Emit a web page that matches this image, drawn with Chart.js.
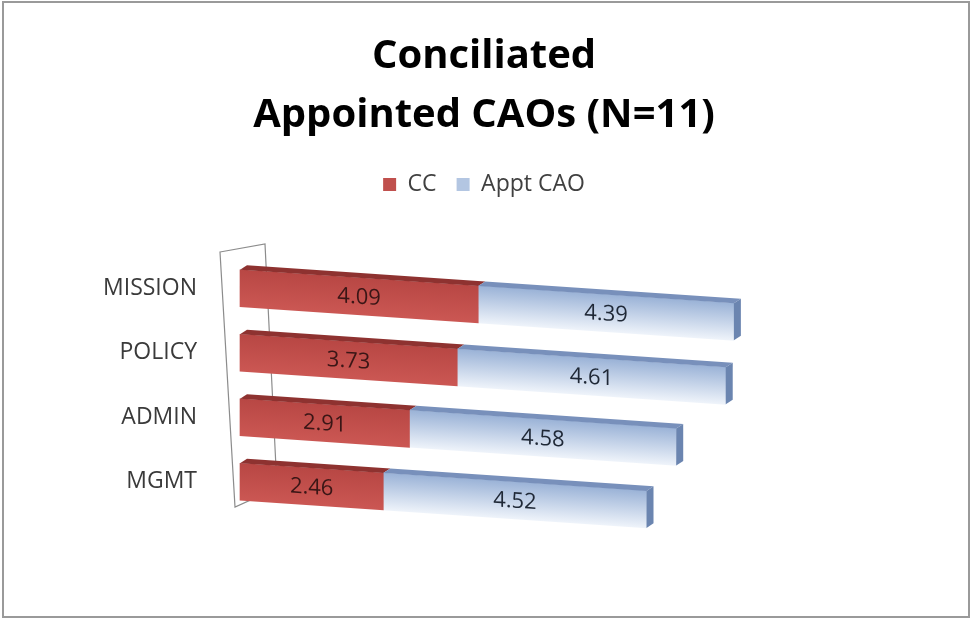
<!DOCTYPE html>
<html><head><meta charset="utf-8">
<script src="https://cdn.jsdelivr.net/npm/chart.js@4/dist/chart.umd.min.js"></script>
<style>html,body{margin:0;padding:0;background:#fff}canvas{display:block}</style>
</head><body>
<canvas id="c" width="972" height="620"></canvas>
<script>
const titleLines = ['Conciliated', 'Appointed CAOs (N=11)'];
const categories = ['MISSION', 'POLICY', 'ADMIN', 'MGMT'];
const seriesNames = ['CC', 'Appt CAO'];
const ccValues = [4.09, 3.73, 2.91, 2.46];
const apptValues = [4.39, 4.61, 4.58, 4.52];
const valueAxisMin = 0;
const valueAxisMax = 12.5;

const FONT = "'Open Sans', 'DejaVu Sans', sans-serif";
const SKEW = 0.068;
const DX = 7, DY = 5;
const BAR = 37;
const LEGEND_GAP = 50;
const frontColors = [['#b84744', '#cb5753'], ['#9bb3d7', '#eef3fa']];
const topColors = ['#8e3230', '#7890bb'];
const sideColors = ['#8a302e', '#6b85b0'];
const labelColors = ['#3a1616', '#1f2836'];
const legendColors = ['#c0504d', '#b3c6e2'];

function frontFill(di) {
  return (context) => {
    const chart = context.chart;
    const a = chart.chartArea;
    if (!a || context.type !== 'data') return frontColors[di][0];
    const y = chart.scales.y.getPixelForValue(context.dataIndex);
    const g = chart.ctx.createLinearGradient(0, y - BAR / 2, 0, y + BAR / 2);
    g.addColorStop(0, frontColors[di][0]);
    g.addColorStop(1, frontColors[di][1]);
    return g;
  };
}

const bars3d = {
  id: 'bars3d',
  beforeInit(chart) {
    const lg = chart.legend;
    if (lg) {
      const origFit = lg.fit;
      lg.fit = function () { origFit.call(this); this.height += LEGEND_GAP; };
    }
  },
  beforeDraw(chart) {
    const c = chart.ctx;
    c.save();
    c.fillStyle = '#ffffff';
    c.fillRect(0, 0, chart.width, chart.height);
    c.strokeStyle = '#9a9a9a';
    c.lineWidth = 2;
    c.strokeRect(3, 2, chart.width - 6, chart.height - 5);
    c.restore();
  },
  beforeDatasetsDraw(chart) {
    const {ctx, chartArea: a} = chart;
    ctx.save();
    ctx.strokeStyle = '#8c8c8c';
    ctx.lineWidth = 1.2;
    ctx.beginPath();
    ctx.moveTo(a.left - 20, a.top - 4);
    ctx.lineTo(a.left + 25, a.top - 12);
    ctx.lineTo(a.left + 37, a.bottom - 26);
    ctx.lineTo(a.left - 5, a.bottom - 7);
    ctx.closePath();
    ctx.stroke();
    ctx.restore();
    ctx.save();
    ctx.transform(1, SKEW, 0, 1, 0, -SKEW * a.left);
  },
  afterDatasetsDraw(chart) {
    const ctx = chart.ctx;
    const n = chart.data.datasets.length;
    chart.data.datasets.forEach((ds, di) => {
      const meta = chart.getDatasetMeta(di);
      meta.data.forEach((bar) => {
        const p = bar.getProps(['x', 'y', 'base', 'height'], true);
        const x0 = Math.min(p.base, p.x), x1 = Math.max(p.base, p.x);
        const top = p.y - p.height / 2, bottom = p.y + p.height / 2;
        ctx.fillStyle = topColors[di];
        ctx.beginPath();
        ctx.moveTo(x0, top);
        ctx.lineTo(x0 + DX, top - DY);
        ctx.lineTo(x1 + DX, top - DY);
        ctx.lineTo(x1, top);
        ctx.closePath();
        ctx.fill();
        if (di === n - 1) {
          ctx.fillStyle = sideColors[di];
          ctx.beginPath();
          ctx.moveTo(x1, top);
          ctx.lineTo(x1 + DX, top - DY);
          ctx.lineTo(x1 + DX, bottom - DY);
          ctx.lineTo(x1, bottom);
          ctx.closePath();
          ctx.fill();
        }
      });
    });
    chart.data.datasets.forEach((ds, di) => {
      const meta = chart.getDatasetMeta(di);
      meta.data.forEach((bar, i) => {
        const p = bar.getProps(['x', 'y', 'base'], true);
        ctx.fillStyle = labelColors[di];
        ctx.font = "22px " + FONT;
        ctx.textAlign = 'center';
        ctx.textBaseline = 'middle';
        ctx.fillText(ds.data[i].toFixed(2), (p.x + p.base) / 2, p.y + 1);
      });
    });
    ctx.restore();
  }
};

new Chart(document.getElementById('c'), {
  type: 'bar',
  data: {
    labels: categories,
    datasets: [
      {label: seriesNames[0], data: ccValues, backgroundColor: frontFill(0), borderWidth: 0, barThickness: BAR, clip: false},
      {label: seriesNames[1], data: apptValues, backgroundColor: frontFill(1), borderWidth: 0, barThickness: BAR, clip: false}
    ]
  },
  options: {
    indexAxis: 'y',
    responsive: false,
    animation: false,
    events: [],
    layout: {padding: {top: 0, right: 4, bottom: 106, left: 0}},
    scales: {
      x: {stacked: true, display: false, min: valueAxisMin, max: valueAxisMax},
      y: {
        stacked: true,
        grid: {display: false, drawTicks: false},
        border: {display: false},
        ticks: {color: '#3a3a3a', font: {family: FONT, size: 23}, padding: 43},
        afterFit(scale) { scale.width = 240; }
      }
    },
    plugins: {
      tooltip: {enabled: false},
      title: {
        display: true,
        text: titleLines,
        color: '#000000',
        font: {family: FONT, weight: 'bold', size: 40, lineHeight: 1.475},
        padding: {top: 27, bottom: 8}
      },
      legend: {
        display: true,
        position: 'top',
        labels: {
          color: '#404040',
          font: {family: FONT, size: 23},
          boxWidth: 13,
          boxHeight: 13,
          padding: 20,
          generateLabels() {
            return seriesNames.map((name, i) => ({
              text: name, fillStyle: legendColors[i], strokeStyle: legendColors[i],
              lineWidth: 0, hidden: false, datasetIndex: i, fontColor: '#404040'
            }));
          }
        }
      }
    }
  },
  plugins: [bars3d]
});
</script>
</body></html>
